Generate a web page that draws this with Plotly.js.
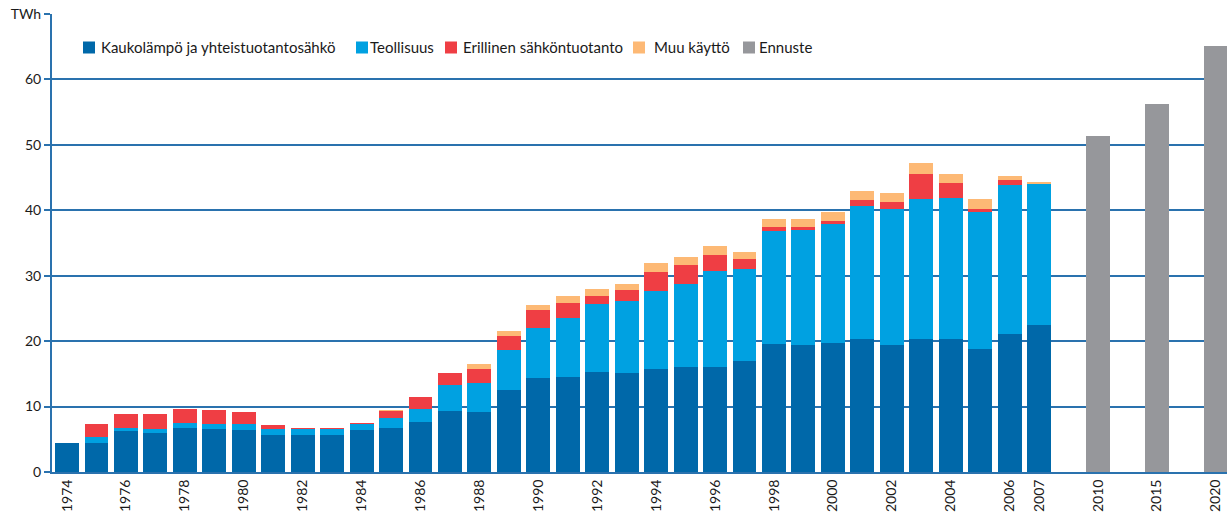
<!DOCTYPE html>
<html>
<head>
<meta charset="utf-8">
<script src="https://cdn.plot.ly/plotly-3.0.1.min.js"></script>
<style>
html,body{margin:0;padding:0;background:#fff;}
#chart{width:1227px;height:516px;}
</style>
</head>
<body>
<div id="chart"></div>
<script>
// Historical years
const years = ["1974","1975","1976","1977","1978","1979","1980","1981","1982","1983","1984","1985","1986","1987","1988","1989","1990","1991","1992","1993","1994","1995","1996","1997","1998","1999","2000","2001","2002","2003","2004","2005","2006","2007"];
// Kaukolämpö ja yhteistuotantosähkö (TWh)
const kaukolampo = [4.5,4.5,6.2,5.9,6.8,6.5,6.4,5.6,5.6,5.6,6.4,6.8,7.6,9.4,9.2,12.6,14.4,14.5,15.3,15.1,15.7,16.0,16.0,16.9,19.5,19.4,19.7,20.3,19.4,20.3,20.3,18.8,21.1,22.4];
// Teollisuus
const teollisuus = [0,0.8,0.6,0.6,0.7,0.8,0.9,0.9,0.9,0.9,0.9,1.4,2.1,3.9,4.4,6.0,7.6,9.1,10.4,11.0,11.9,12.8,14.7,14.1,17.3,17.6,18.2,20.4,20.8,21.4,21.6,21.0,22.8,21.6];
// Erillinen sähköntuotanto
const erillinen = [0,2.1,2.0,2.3,2.2,2.2,1.8,0.7,0.3,0.2,0.2,1.2,1.8,1.9,2.2,2.2,2.7,2.2,1.2,1.7,2.9,2.9,2.5,1.5,0.7,0.4,0.4,0.8,1.0,3.9,2.2,0.4,0.8,0];
// Muu käyttö
const muu = [0,0,0,0,0,0,0,0,0,0,0,0.1,0,0,0.7,0.7,0.8,1.1,1.0,1.0,1.4,1.2,1.3,1.2,1.2,1.2,1.4,1.4,1.5,1.6,1.5,1.6,0.5,0.3];
// Ennuste (forecast)
const forecastYears = ["2010","2015","2020"];
const forecast = [51.4,56.3,65.1];
// Category order incl. empty slots between forecast years
const categoryOrder = years.concat([" ","2010","  ","2015","   ","2020"]);
// X tick labels
const xTickLabels = ["1974","1976","1978","1980","1982","1984","1986","1988","1990","1992","1994","1996","1998","2000","2002","2004","2006","2007","2010","2015","2020"];
// Y ticks
const yTickVals = [0,10,20,30,40,50,60,70];
const yTickText = ["0","10","20","30","40","50","60","TWh"];
// Series names
const seriesNames = ["Kaukolämpö ja yhteistuotantosähkö","Teollisuus","Erillinen sähköntuotanto","Muu käyttö","Ennuste"];

const FONT = "Lato, 'Open Sans', sans-serif";
const COLORS = ["#0068a9","#00a1e1","#ef3e44","#fdb975","#96979b"];
const AXIS = "#2a72ae";

// plot area geometry (pixels)
const PL = 52, PR = 1227, PT = 14, PB = 472;
const px2x = p => (p - PL) / (PR - PL);
const px2y = p => (PB - p) / (PB - PT);

function bar(i, x, y){
  return {type:"bar", name:seriesNames[i], x:x, y:y, marker:{color:COLORS[i], line:{width:0}}, showlegend:false};
}

const data = [
  bar(0, years, kaukolampo),
  bar(1, years, teollisuus),
  bar(2, years, erillinen),
  bar(3, years, muu),
  bar(4, forecastYears, forecast)
];

// hand-placed legend (squares + text) at top of plot
const legSquareLeft = [83, 356, 445, 633, 743];
const legTextLeft = [100, 369, 462, 653, 758];
const shapes = [], annotations = [];
seriesNames.forEach((n, i) => {
  shapes.push({type:"rect", xref:"paper", yref:"paper",
    x0:px2x(legSquareLeft[i]), x1:px2x(legSquareLeft[i]+12),
    y0:px2y(53.5), y1:px2y(41.5), fillcolor:COLORS[i], line:{width:0}});
  annotations.push({xref:"paper", yref:"paper", x:px2x(legTextLeft[i]-1), y:px2y(47.5),
    xanchor:"left", yanchor:"middle", showarrow:false, text:n,
    font:{family:FONT, size:15, color:"#1a1a1a"}});
});

const layout = {
  width:1227, height:516,
  margin:{l:PL, r:1227-PR, t:PT, b:516-PB, pad:0},
  paper_bgcolor:"#fff", plot_bgcolor:"#fff",
  barmode:"stack", bargap:0.19,
  font:{family:FONT, size:14, color:"#1a1a1a"},
  showlegend:false,
  shapes:shapes, annotations:annotations,
  xaxis:{type:"category", categoryorder:"array", categoryarray:categoryOrder,
         range:[-0.51, 39.38], tickmode:"array", tickvals:xTickLabels, ticktext:xTickLabels,
         tickangle:-90, ticks:"", showgrid:false, zeroline:false,
         showline:true, linecolor:AXIS, linewidth:2,
         tickfont:{family:FONT, size:14, color:"#1a1a1a"}, fixedrange:true},
  yaxis:{range:[0,70], tickmode:"array", tickvals:yTickVals, ticktext:yTickText,
         ticks:"outside", ticklen:6, tickcolor:AXIS, tickwidth:2,
         showgrid:true, gridcolor:AXIS, gridwidth:2, zeroline:false,
         showline:true, linecolor:AXIS, linewidth:2,
         tickfont:{family:FONT, size:14, color:"#1a1a1a"}, fixedrange:true}
};

Plotly.newPlot("chart", data, layout, {displayModeBar:false, staticPlot:true});
</script>
</body>
</html>
